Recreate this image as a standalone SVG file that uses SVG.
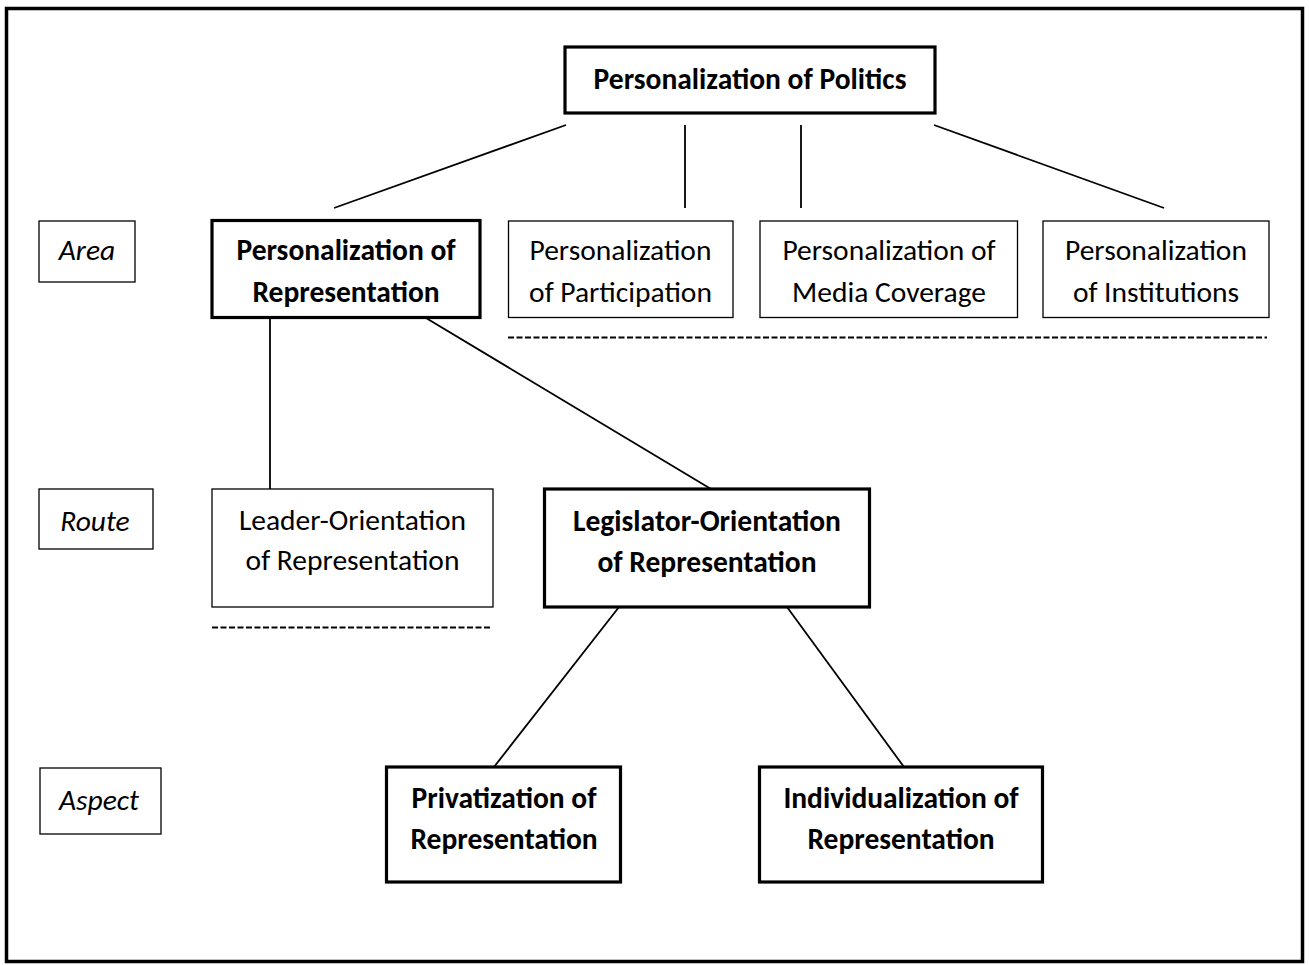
<svg xmlns="http://www.w3.org/2000/svg" width="1309" height="965" viewBox="0 0 1309 965">
<style>
.frame{fill:#fff;stroke:#000;stroke-width:3.5}
.thick{fill:#fff;stroke:#000;stroke-width:3.2}
.thin{fill:#fff;stroke:#000;stroke-width:1.3}
.conn{stroke:#000;stroke-width:1.8;fill:none}
.dash{stroke:#000;stroke-width:2;stroke-dasharray:6 2.5;fill:none}
text{font-family:Carlito,Lato,"Liberation Sans",sans-serif;fill:#000;text-anchor:middle;font-size:29.5px}
.b{font-weight:bold}
.i{font-style:italic}
</style>
<rect class="frame" x="6.5" y="8.5" width="1296" height="953"/>
<g id="connectors">
<line class="conn" x1="566" y1="125" x2="334" y2="208"/>
<line class="conn" x1="685" y1="125" x2="685" y2="208"/>
<line class="conn" x1="801" y1="125" x2="801" y2="208"/>
<line class="conn" x1="934" y1="125" x2="1164" y2="208"/>
<line class="conn" x1="270" y1="318" x2="270" y2="489"/>
<line class="conn" x1="426" y1="318" x2="711" y2="489"/>
<line class="conn" x1="619" y1="607" x2="494" y2="767"/>
<line class="conn" x1="787" y1="607" x2="904" y2="767"/>
<line class="dash" x1="508" y1="337.5" x2="1267" y2="337.5"/>
<line class="dash" x1="212" y1="627.5" x2="490" y2="627.5"/>
</g>
<g id="label-area"><rect class="thin" x="39" y="221" width="96" height="61"/><text class="i" x="87" y="260">Area</text></g>
<g id="label-route"><rect class="thin" x="39" y="489" width="114" height="60"/><text class="i" x="95" y="531">Route</text></g>
<g id="label-aspect"><rect class="thin" x="40" y="768" width="121" height="66"/><text class="i" x="99" y="810">Aspect</text></g>
<g id="node-politics"><rect class="thick" x="565" y="47" width="370" height="66"/><text class="b" x="750" y="89">Personalization of Politics</text></g>
<g id="node-representation"><rect class="thick" x="212" y="220.5" width="268" height="97"/><text class="b" x="346" y="260">Personalization of</text><text class="b" x="346" y="302">Representation</text></g>
<g id="node-participation"><rect class="thin" x="508.5" y="221" width="224.5" height="96.5"/><text x="620.5" y="260">Personalization</text><text x="620.5" y="302">of Participation</text></g>
<g id="node-media"><rect class="thin" x="760" y="221" width="257.5" height="96.5"/><text x="889" y="260">Personalization of</text><text x="889" y="302">Media Coverage</text></g>
<g id="node-institutions"><rect class="thin" x="1043" y="221" width="226" height="96.5"/><text x="1156" y="260">Personalization</text><text x="1156" y="302">of Institutions</text></g>
<g id="node-leader"><rect class="thin" x="212" y="489" width="281" height="118"/><text x="352.5" y="530">Leader-Orientation</text><text x="352.5" y="570">of Representation</text></g>
<g id="node-legislator"><rect class="thick" x="544.5" y="489" width="325" height="118"/><text class="b" x="707" y="531">Legislator-Orientation</text><text class="b" x="707" y="572">of Representation</text></g>
<g id="node-privatization"><rect class="thick" x="386.5" y="767" width="234" height="115"/><text class="b" x="504" y="808">Privatization of</text><text class="b" x="504" y="849">Representation</text></g>
<g id="node-individualization"><rect class="thick" x="759.5" y="767" width="283" height="115"/><text class="b" x="901" y="808">Individualization of</text><text class="b" x="901" y="849">Representation</text></g>
</svg>
